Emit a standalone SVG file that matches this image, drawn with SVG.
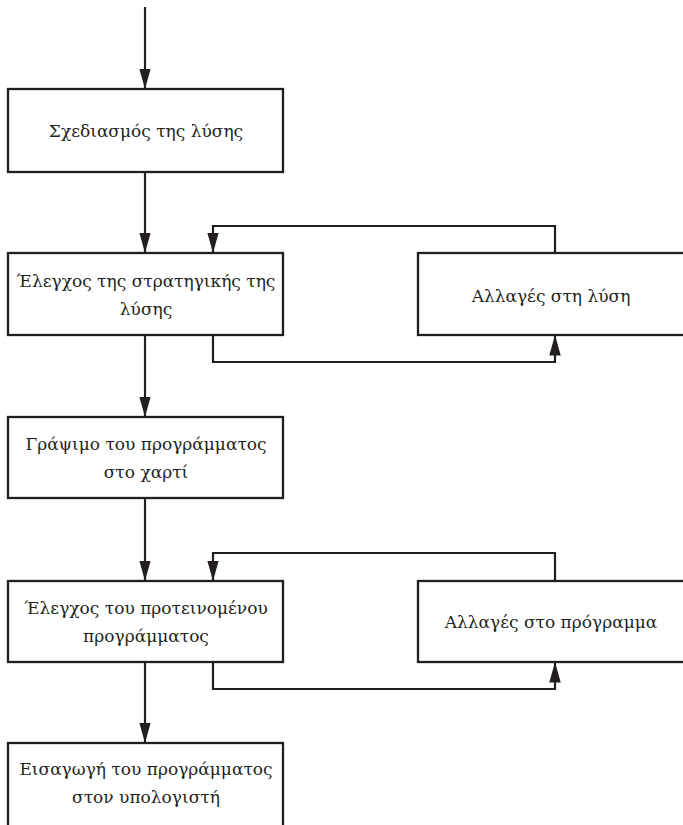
<svg xmlns="http://www.w3.org/2000/svg" width="683" height="825" viewBox="0 0 683 825">
<style>
.box{fill:#fff;stroke:#231f20;stroke-width:2.3}
.lbl{font-family:"DejaVu Serif","Liberation Serif",serif;font-size:17px;fill:#231f20;text-anchor:middle}
.con{fill:none;stroke:#231f20;stroke-width:2.2;marker-end:url(#ah)}
</style>
<defs>
<marker id="ah" markerUnits="userSpaceOnUse" markerWidth="21" markerHeight="12" refX="20.5" refY="5.75" orient="auto">
<path d="M0,0 L20.5,5.75 L0,11.5 z" fill="#231f20"/>
</marker>
</defs>
<rect width="683" height="825" fill="#fff"/>
<g id="connectors">
<path class="con" d="M145,7 V89"/>
<path class="con" d="M145,172 V253"/>
<path class="con" d="M555,253 V226 H213 V253"/>
<path class="con" d="M213,335 V362 H555 V335"/>
<path class="con" d="M145,335 V417"/>
<path class="con" d="M145,498 V581"/>
<path class="con" d="M555,581 V553 H213 V581"/>
<path class="con" d="M213,662 V689 H555 V662"/>
<path class="con" d="M145,662 V743"/>
</g>
<g id="n1">
<rect class="box" x="8" y="89" width="275" height="83"/>
<text class="lbl" x="146" y="137">Σχεδιασμός της λύσης</text>
</g>
<g id="n2">
<rect class="box" x="8" y="253" width="275" height="82"/>
<text class="lbl" x="146" y="287">Έλεγχος της στρατηγικής της</text>
<text class="lbl" x="146" y="315">λύσης</text>
</g>
<g id="n2r">
<rect class="box" x="418" y="253" width="268" height="82"/>
<text class="lbl" x="551" y="302">Αλλαγές στη λύση</text>
</g>
<g id="n3">
<rect class="box" x="8" y="417" width="275" height="81"/>
<text class="lbl" x="146" y="450">Γράψιμο του προγράμματος</text>
<text class="lbl" x="146" y="478">στο χαρτί</text>
</g>
<g id="n4">
<rect class="box" x="8" y="581" width="275" height="81"/>
<text class="lbl" x="146" y="614">Έλεγχος του προτεινομένου</text>
<text class="lbl" x="146" y="642">προγράμματος</text>
</g>
<g id="n4r">
<rect class="box" x="418" y="581" width="268" height="81"/>
<text class="lbl" x="551" y="628">Αλλαγές στο πρόγραμμα</text>
</g>
<g id="n5">
<rect class="box" x="8" y="743" width="275" height="100"/>
<text class="lbl" x="146" y="775">Εισαγωγή του προγράμματος</text>
<text class="lbl" x="146" y="803">στον υπολογιστή</text>
</g>
</svg>
